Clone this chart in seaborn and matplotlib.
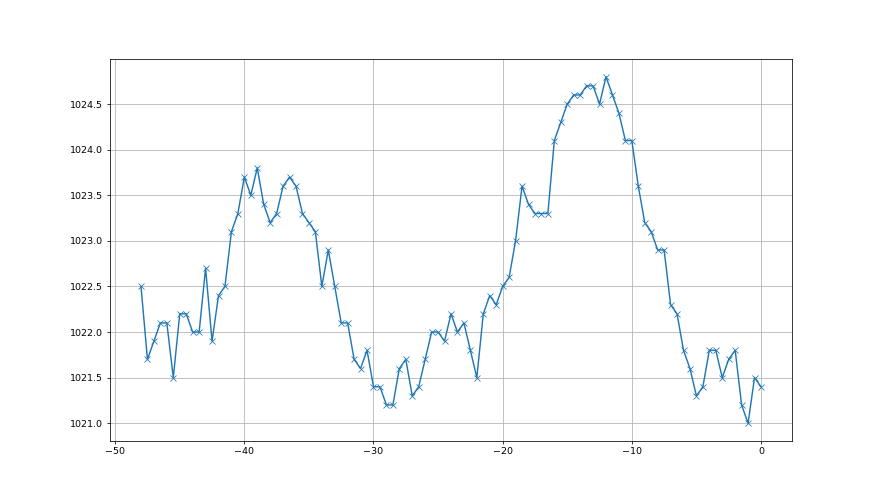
import seaborn as sns
import matplotlib.pyplot as plt
import pandas as pd
import numpy as np

# time offsets (hours) and pressure readings (hPa)
hours = [-48 + 0.5 * i for i in range(97)]
pressure = [
    1022.5, 1021.7, 1021.9, 1022.1, 1022.1, 1021.5, 1022.2, 1022.2, 1022.0, 1022.0,
    1022.7, 1021.9, 1022.4, 1022.5, 1023.1, 1023.3, 1023.7, 1023.5, 1023.8, 1023.4,
    1023.2, 1023.3, 1023.6, 1023.7, 1023.6, 1023.3, 1023.2, 1023.1, 1022.5, 1022.9,
    1022.5, 1022.1, 1022.1, 1021.7, 1021.6, 1021.8, 1021.4, 1021.4, 1021.2, 1021.2,
    1021.6, 1021.7, 1021.3, 1021.4, 1021.7, 1022.0, 1022.0, 1021.9, 1022.2, 1022.0,
    1022.1, 1021.8, 1021.5, 1022.2, 1022.4, 1022.3, 1022.5, 1022.6, 1023.0, 1023.6,
    1023.4, 1023.3, 1023.3, 1023.3, 1024.1, 1024.3, 1024.5, 1024.6, 1024.6, 1024.7,
    1024.7, 1024.5, 1024.8, 1024.6, 1024.4, 1024.1, 1024.1, 1023.6, 1023.2, 1023.1,
    1022.9, 1022.9, 1022.3, 1022.2, 1021.8, 1021.6, 1021.3, 1021.4, 1021.8, 1021.8,
    1021.5, 1021.7, 1021.8, 1021.2, 1021.0, 1021.5, 1021.4,
]

df = pd.DataFrame({'hours': hours, 'pressure': pressure})

fig, ax = plt.subplots(figsize=(12.8, 7.2), dpi=68.75)
sns.lineplot(data=df, x='hours', y='pressure', marker='x', color='C0',
             markersize=6, markeredgecolor='C0', markeredgewidth=0.8, ax=ax)
ax.set_xlabel('')
ax.set_ylabel('')
ax.grid(True)
ax.ticklabel_format(useOffset=False, axis='y')
plt.savefig('out.png', dpi=68.75)
